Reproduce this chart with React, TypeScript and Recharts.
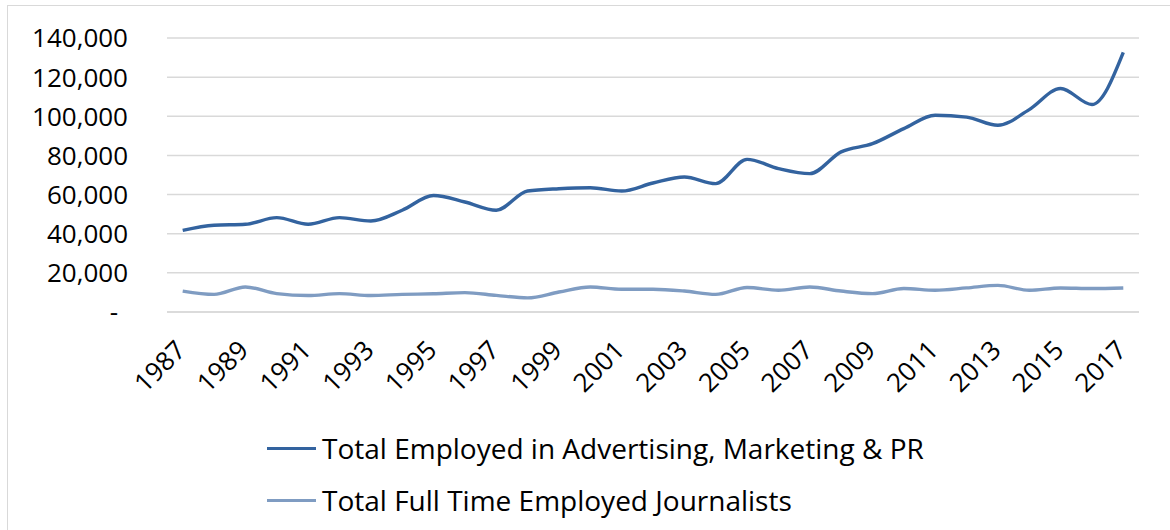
import React from "react";
import { LineChart, Line, XAxis, YAxis, CartesianGrid } from "recharts";

const years = [
  "1987", "1988", "1989", "1990", "1991", "1992", "1993", "1994", "1995", "1996",
  "1997", "1998", "1999", "2000", "2001", "2002", "2003", "2004", "2005", "2006",
  "2007", "2008", "2009", "2010", "2011", "2012", "2013", "2014", "2015", "2016",
  "2017",
];

const advertising = [
  41700, 44300, 44800, 48200, 44800, 48200, 46500, 52000, 59500, 56200,
  52000, 61800, 63000, 63500, 61800, 65900, 69000, 65600, 78000, 73300,
  70700, 81800, 86000, 93700, 100500, 99600, 95400, 103400, 114200, 106000,
  132600,
];

const journalists = [
  10700, 9000, 12800, 9400, 8400, 9400, 8400, 9000, 9300, 9900,
  8500, 7200, 10200, 12800, 11600, 11600, 10700, 9000, 12500, 11100,
  12800, 10700, 9400, 12000, 11100, 12300, 13600, 11100, 12300, 12000,
  12300,
];

const yTicks = [0, 20000, 40000, 60000, 80000, 100000, 120000, 140000];

const seriesNames = [
  "Total Employed in Advertising, Marketing & PR",
  "Total Full Time Employed Journalists",
];
const seriesColors = ["#33639F", "#7F9CC2"];

const FONT = "'Open Sans', 'Noto Sans', sans-serif";

const data = years.map((year, i) => ({
  year,
  adv: advertising[i],
  jour: journalists[i],
}));

function fmt(v: number): string {
  if (v === 0) return "-";
  return v.toLocaleString("en-US");
}

function YTick(props: any) {
  const { x, y, payload } = props;
  const v = payload.value as number;
  return (
    <text
      x={v === 0 ? x - 10 : x}
      y={y}
      dy="0.36em"
      textAnchor="end"
      fontSize={26}
      fontFamily={FONT}
      fill="#000"
    >
      {fmt(v)}
    </text>
  );
}

function XTick(props: any) {
  const { x, y, payload } = props;
  return (
    <g transform={`translate(${x - 2},${y + 33})`}>
      <text
        textAnchor="end"
        dy="0.36em"
        transform="rotate(-45)"
        fontSize={26}
        fontFamily={FONT}
        fill="#000"
      >
        {payload.value}
      </text>
    </g>
  );
}

if (typeof document !== "undefined") {
  document.body.style.margin = "0";
}

export default function App() {
  return (
    <div
      style={{
        position: "relative",
        width: 1170,
        height: 530,
        overflow: "hidden",
        background: "#fff",
      }}
    >
      <div
        style={{
          position: "absolute",
          left: 7,
          top: 5,
          width: 1200,
          height: 600,
          border: "1px solid #d9d9d9",
        }}
      />
      <div style={{ position: "absolute", left: 0, top: 0 }}>
        <LineChart
          width={1170}
          height={530}
          data={data}
          margin={{ top: 38, right: 31, left: 0, bottom: 0 }}
        >
          <CartesianGrid vertical={false} stroke="#d9d9d9" strokeWidth={1.5} />
          <XAxis
            dataKey="year"
            interval={1}
            height={218}
            tickLine={false}
            axisLine={{ stroke: "#d9d9d9", strokeWidth: 1.5 }}
            tickSize={0}
            tickMargin={0}
            padding={{ left: 15.7, right: 15.7 }}
            tick={<XTick />}
          />
          <YAxis
            width={167}
            domain={[0, 140000]}
            ticks={yTicks}
            axisLine={false}
            tickLine={false}
            tickSize={0}
            tickMargin={39}
            tick={<YTick />}
          />
          <Line
            type="monotone"
            dataKey="adv"
            name={seriesNames[0]}
            stroke={seriesColors[0]}
            strokeWidth={3.4}
            dot={false}
            isAnimationActive={false}
          />
          <Line
            type="monotone"
            dataKey="jour"
            name={seriesNames[1]}
            stroke={seriesColors[1]}
            strokeWidth={3.4}
            dot={false}
            isAnimationActive={false}
          />
        </LineChart>
      </div>
      {seriesNames.map((name, i) => (
        <div
          key={name}
          style={{
            position: "absolute",
            left: 267,
            top: 429 + i * 52,
            height: 38,
            display: "flex",
            alignItems: "center",
            fontFamily: FONT,
            fontSize: 28,
            color: "#000",
            whiteSpace: "nowrap",
          }}
        >
          <span
            style={{
              display: "inline-block",
              width: 49,
              height: 3,
              background: seriesColors[i],
              marginRight: 6,
            }}
          />
          <span>{name}</span>
        </div>
      ))}
    </div>
  );
}
